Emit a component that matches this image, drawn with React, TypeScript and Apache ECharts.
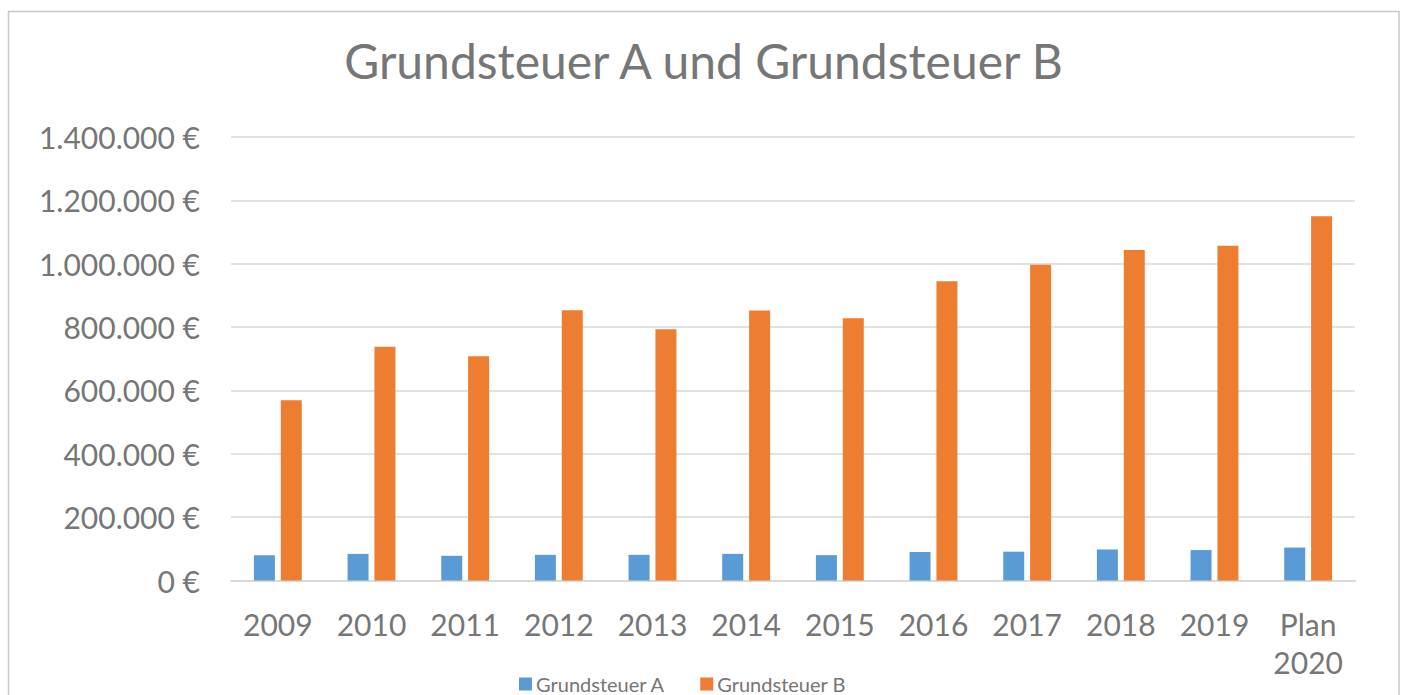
import React, { useEffect, useRef } from "react";
import * as echarts from "echarts";

const categories = ["2009", "2010", "2011", "2012", "2013", "2014", "2015", "2016", "2017", "2018", "2019", "Plan\n2020"];
const grundsteuerA = [80000, 84000, 78000, 81000, 81000, 84000, 80000, 90000, 91000, 98000, 96000, 104000];
const grundsteuerB = [569000, 738000, 708000, 853000, 793000, 852000, 828000, 945000, 997000, 1043000, 1057000, 1150000];
const seriesNames = ["Grundsteuer A", "Grundsteuer B"];
const titleText = "Grundsteuer A und Grundsteuer B";

const FONT = "Lato, 'Open Sans', sans-serif";
const TEXT = "#767676";

function formatEuro(v: number): string {
  const s = Math.round(v).toString().replace(/\B(?=(\d{3})+(?!\d))/g, ".");
  return s + " €";
}

export default function App() {
  const ref = useRef<HTMLDivElement>(null);
  useEffect(() => {
    if (!ref.current) return;
    const chart = echarts.init(ref.current, undefined, { renderer: "svg" });
    chart.setOption({
      animation: false,
      backgroundColor: "#ffffff",
      textStyle: { fontFamily: FONT },
      title: {
        text: titleText,
        left: "center",
        top: 31,
        textStyle: { fontFamily: FONT, fontSize: 48, fontWeight: "normal", color: TEXT },
      },
      graphic: [
        {
          type: "rect",
          shape: { x: 8.5, y: 11.5, width: 1390.5, height: 720 },
          style: { fill: "none", stroke: "#c8c8c8", lineWidth: 1.5 },
          silent: true,
        },
      ],
      legend: {
        top: 674,
        left: 519,
        itemWidth: 13,
        itemHeight: 13,
        itemGap: 35,
        icon: "rect",
        padding: 0,
        textStyle: { fontFamily: FONT, fontSize: 20, lineHeight: 20, color: TEXT, padding: [0, 0, 0, -1] },
        data: seriesNames,
      },
      grid: { left: 231, right: 52, top: 137, bottom: 114.5, containLabel: false },
      xAxis: {
        type: "category",
        data: categories,
        axisLine: { show: true, lineStyle: { color: "#d9d9d9", width: 2 } },
        axisTick: { show: false },
        axisLabel: {
          fontFamily: FONT,
          fontSize: 30,
          color: TEXT,
          margin: 24,
          lineHeight: 38,
          interval: 0,
        },
      },
      yAxis: {
        type: "value",
        min: 0,
        max: 1400000,
        interval: 200000,
        axisLine: { show: false },
        axisTick: { show: false },
        splitLine: { lineStyle: { color: "#d9d9d9", width: 1.5 } },
        axisLabel: {
          fontFamily: FONT,
          fontSize: 30,
          color: TEXT,
          margin: 31,
          formatter: (v: number) => formatEuro(v),
        },
      },
      series: [
        {
          name: seriesNames[0],
          type: "bar",
          data: grundsteuerA,
          barWidth: 21,
          barGap: "28%",
          itemStyle: { color: "#5b9bd5" },
        },
        {
          name: seriesNames[1],
          type: "bar",
          data: grundsteuerB,
          barWidth: 21,
          barGap: "28%",
          itemStyle: { color: "#ed7d31" },
        },
      ],
    });
    return () => chart.dispose();
  }, []);
  return (
    <div
      ref={ref}
      style={{ position: "absolute", left: 0, top: 0, width: 1407, height: 695 }}
    />
  );
}
